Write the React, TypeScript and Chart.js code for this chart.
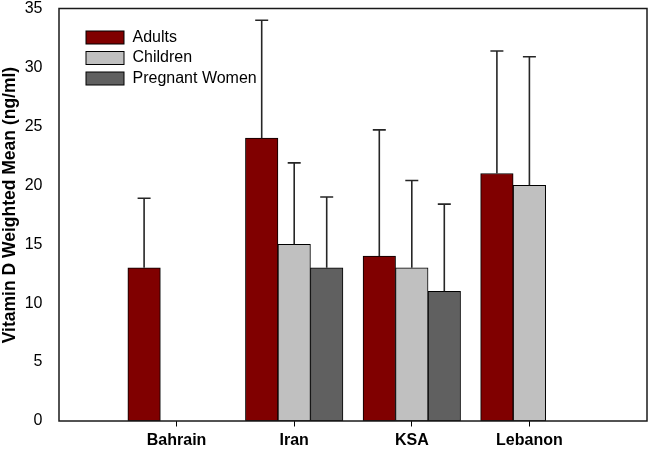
import React, { useEffect, useRef } from "react";
import { Chart, registerables } from "chart.js";

Chart.register(...registerables);

const categories = ["Bahrain", "Iran", "KSA", "Lebanon"];
const seriesNames = ["Adults", "Children", "Pregnant Women"];
const adults = [13, 24, 14, 21];
const children = [null, 15, 13, 20];
const pregnant = [null, 13, 11, null];
const adultsSD = [5.9, 10, 10.7, 10.4];
const childrenSD = [null, 6.9, 7.4, 10.9];
const pregnantSD = [null, 6, 7.4, null];
const yTicks = [0, 5, 10, 15, 20, 25, 30, 35];
const yTitle = "Vitamin D Weighted Mean (ng/ml)";

const colors = ["#800000", "#c0c0c0", "#606060"];
const FONT = "'Liberation Sans', Arial, Helvetica, sans-serif";

const errorBarPlugin = {
  id: "errorBars",
  afterDatasetsDraw(chart: any) {
    const ctx = chart.ctx;
    const yScale = chart.scales.y;
    ctx.save();
    ctx.strokeStyle = "#262626";
    ctx.lineWidth = 1.6;
    chart.data.datasets.forEach((ds: any, di: number) => {
      const meta = chart.getDatasetMeta(di);
      meta.data.forEach((el: any, i: number) => {
        const v = ds.data[i].y;
        const e = ds.errors[i];
        if (v == null || e == null) return;
        const yTop = yScale.getPixelForValue(v + e);
        const x = el.x;
        ctx.beginPath();
        ctx.moveTo(x, el.y);
        ctx.lineTo(x, yTop);
        ctx.moveTo(x - 6.5, yTop);
        ctx.lineTo(x + 6.5, yTop);
        ctx.stroke();
      });
    });
    ctx.restore();
  },
};

const framePlugin = {
  id: "frame",
  afterDraw(chart: any) {
    const { ctx, chartArea } = chart;
    ctx.save();
    ctx.strokeStyle = "#1a1a1a";
    ctx.lineWidth = 1.5;
    ctx.strokeRect(chartArea.left, chartArea.top, chartArea.right - chartArea.left, chartArea.bottom - chartArea.top);
    ctx.restore();
  },
};

const legendPlugin = {
  id: "insideLegend",
  afterDraw(chart: any) {
    const { ctx, chartArea } = chart;
    ctx.save();
    const x0 = chartArea.left + 27;
    const y0 = chartArea.top + 22.5;
    chart.data.datasets.forEach((ds: any, i: number) => {
      const y = y0 + i * 20.5;
      ctx.fillStyle = ds.backgroundColor;
      ctx.fillRect(x0, y, 38, 13);
      ctx.strokeStyle = "#000";
      ctx.lineWidth = 1;
      ctx.strokeRect(x0, y, 38, 13);
      ctx.fillStyle = "#000";
      ctx.font = `16px ${FONT}`;
      ctx.textBaseline = "middle";
      ctx.textAlign = "left";
      ctx.fillText(ds.label, x0 + 46.5, y + 6.5);
    });
    ctx.restore();
  },
};

export default function App() {
  const ref = useRef<HTMLCanvasElement | null>(null);
  useEffect(() => {
    if (!ref.current) return;
    const series = [adults, children, pregnant];
    const errs = [adultsSD, childrenSD, pregnantSD];
    const chart = new Chart(ref.current, {
      type: "bar",
      data: {
        datasets: series.map((s, si) => ({
          label: seriesNames[si],
          data: categories.map((_, i) => ({ x: i + 1, y: s[i] })),
          errors: errs[si],
          backgroundColor: colors[si],
          borderColor: "#000",
          borderWidth: 1,
          borderSkipped: false,
          barThickness: 32.5,
        })) as any,
      },
      options: {
        animation: false,
        responsive: true,
        maintainAspectRatio: false,
        layout: { padding: { left: 0, top: 8.5, right: 3, bottom: 0 } },
        plugins: { legend: { display: false }, tooltip: { enabled: false } },
        scales: {
          x: {
            type: "linear",
            min: 0,
            max: 5,
            offset: false,
            afterBuildTicks: (axis: any) => {
              axis.ticks = categories.map((_, i) => ({ value: i + 1 }));
            },
            afterFit: (s: any) => {
              s.height = 31;
              s.paddingLeft = 0;
              s.paddingRight = 0;
            },
            grid: { display: true, offset: false, drawOnChartArea: false, drawTicks: true, tickLength: 5.5, color: "#000", lineWidth: 1 },
            border: { display: false },
            ticks: {
              autoSkip: false,
              maxRotation: 0,
              padding: 4.5,
              color: "#000",
              font: { family: FONT, size: 16, weight: "bold" },
              callback: (v: any) => categories[Math.round(v) - 1] ?? "",
            },
          },
          y: {
            min: 0,
            max: 35,
            afterBuildTicks: (axis: any) => {
              axis.ticks = yTicks.map((v) => ({ value: v }));
            },
            afterFit: (s: any) => {
              s.width = 59;
              s.paddingTop = 0;
              s.paddingBottom = 0;
            },
            grid: { display: false },
            border: { display: false },
            ticks: {
              padding: 8.5,
              color: "#000",
              font: { family: FONT, size: 16 },
            },
            title: {
              display: true,
              text: "    " + yTitle,
              color: "#000",
              padding: { top: 0, bottom: 0 },
              font: { family: FONT, size: 17.5, weight: "bold" },
            },
          },
        },
      } as any,
      plugins: [errorBarPlugin, framePlugin, legendPlugin],
    });
    return () => chart.destroy();
  }, []);
  return (
    <div style={{ position: "fixed", left: 0, top: 0, width: 650, height: 452, background: "#fff" }}>
      <canvas ref={ref} />
    </div>
  );
}
